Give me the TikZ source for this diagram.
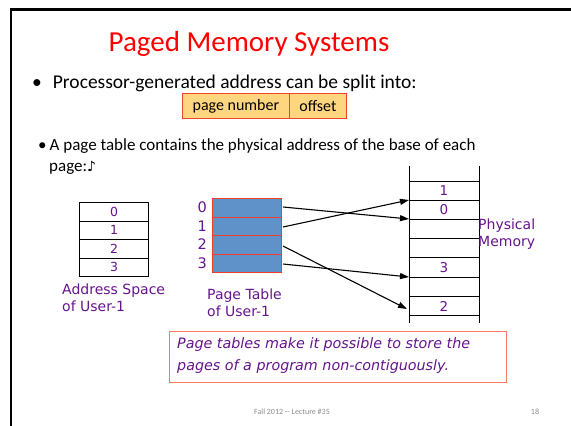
\documentclass[tikz,border=0pt]{standalone}
\usepackage{fontspec}
\setmainfont{Carlito}
\newfontfamily\verd{DejaVu Sans}
\usetikzlibrary{arrows.meta}
\definecolor{titlered}{RGB}{255,0,0}
\definecolor{labpurple}{RGB}{102,20,140}
\definecolor{fieldfill}{RGB}{255,214,128}
\definecolor{fielddraw}{RGB}{240,70,40}
\definecolor{ptfill}{RGB}{95,146,200}
\definecolor{ptdraw}{RGB}{240,60,40}
\definecolor{notedraw}{RGB}{250,120,100}
\definecolor{footgray}{RGB}{140,140,140}
\tikzset{
  purp/.style={text=labpurple, font=\verd\fontsize{14}{16.5}\selectfont, inner sep=0pt},
  cell/.style={draw=black, line width=1pt},
  link/.style={-{Triangle[length=9pt,width=6pt]}, line width=1.1pt, shorten >=0pt},
  pmnum/.style={text=labpurple, font=\verd\fontsize{13.5}{15}\selectfont, inner sep=0pt},
}
\begin{document}
\begin{tikzpicture}[x=1pt,y=-1pt]
\useasboundingbox (0,0) rectangle (571,426);
% slide frame (left and top edges)
\draw[line width=2.5pt] (11,440) -- (11,9.5) -- (580,9.5);

% title
\node[text=titlered, font=\fontsize{29}{35}\selectfont, inner sep=0pt] (title) at (249,44) {Paged Memory Systems};

% first bullet
\node[anchor=base west, inner sep=0pt, font=\fontsize{19.5}{23}\selectfont] (b1) at (32,88)
  {\textbullet\hspace{11pt}Processor-generated address can be split into:};

% address field box
\node[draw=fielddraw, fill=fieldfill, line width=0.8pt, minimum width=107pt, minimum height=25pt,
      anchor=north west, inner sep=0pt, font=\fontsize{16}{19}\selectfont] (pn) at (182,93) {page number};
\node[draw=fielddraw, fill=fieldfill, line width=0.8pt, minimum width=57pt, minimum height=25pt,
      anchor=north west, inner sep=0pt, font=\fontsize{16}{19}\selectfont] (off) at (289,93) {offset};

% second bullet
\node[anchor=base west, inner sep=0pt, font=\fontsize{17}{20}\selectfont] (b2) at (38,150)
  {\textbullet\hspace{3pt}A page table contains the physical address of the base of each};
\node[anchor=base west, inner sep=0pt, font=\fontsize{17}{20}\selectfont] (b2b) at (49,171)
  {page:{\verd\fontsize{14}{17}\selectfont ♪}};

% address space of user-1
\foreach \i/\y in {0/202,1/220.5,2/239,3/257.5}{
  \node[cell, anchor=north west, minimum width=69pt, minimum height=18.5pt, inner sep=0pt,
        text=labpurple, font=\verd\fontsize{12.5}{14}\selectfont] (as\i) at (79,\y) {\i};
}
\node[purp, anchor=north west, align=left] (aslab) at (62,284) {Address Space\\of User-1};

% page table of user-1
\foreach \i/\y in {0/198,1/216.5,2/235,3/253.5}{
  \node[draw=ptdraw, fill=ptfill, line width=1pt, anchor=north west, minimum width=69pt,
        minimum height=18.5pt, inner sep=0pt] (pt\i) at (212,\y) {};
  \node[purp, font=\verd\fontsize{14.5}{16}\selectfont, anchor=east] (ptn\i) at (207,\y+9.5) {\i};
}
\node[purp, anchor=north west, align=left] (ptlab) at (207,289) {Page Table\\of User-1};

% physical memory
\coordinate (pmtl) at (409,166);
\coordinate (pmbl) at (409,323);
\coordinate (pmtr) at (479,166);
\coordinate (pmbr) at (479,323);
\draw[line width=1pt] (pmtl) -- (pmbl);
\draw[line width=1pt] (pmtr) -- (pmbr);
\foreach \k/\y in {0/181,1/200,2/219,3/238,4/257,5/277,6/296,7/315}{
  \coordinate (hl\k) at (409,\y);
  \coordinate (hr\k) at (479,\y);
  \draw[line width=1pt] (hl\k) -- (hr\k);
}
\node[pmnum] (pm1) at (444,191) {1};
\node[pmnum] (pm0) at (444,210) {0};
\node[pmnum] (pm3) at (444,267.5) {3};
\node[pmnum] (pm2) at (444,306) {2};
\node[purp, anchor=north west, align=left] (pmlab) at (478,219) {Physical\\Memory};

% page table entries pointing at frames
\draw[link] (283,207) -- (hl2);
\draw[link] (283,227) -- (hl1);
\draw[link] (283,246) -- (407,309);
\draw[link] (283,264) -- (hl5);

% note
\node[draw=notedraw, line width=1pt, anchor=north west, minimum width=337pt, minimum height=51pt,
      inner sep=0pt] (note) at (169,331) {};
\node[anchor=north west, inner sep=0pt, align=left, text=labpurple,
      font=\verd\itshape\fontsize{14.3}{22}\selectfont] (notetxt) at (177,337)
  {Page tables make it possible to store the\\pages of a program non-contiguously.};

% footer
\node[text=footgray, font=\fontsize{8}{10}\selectfont, inner sep=0pt] (foot) at (292,412) {Fall 2012 -{}- Lecture \#35};
\node[text=footgray, font=\fontsize{8}{10}\selectfont, inner sep=0pt] (pg) at (535,412) {18};
\end{tikzpicture}
\end{document}
